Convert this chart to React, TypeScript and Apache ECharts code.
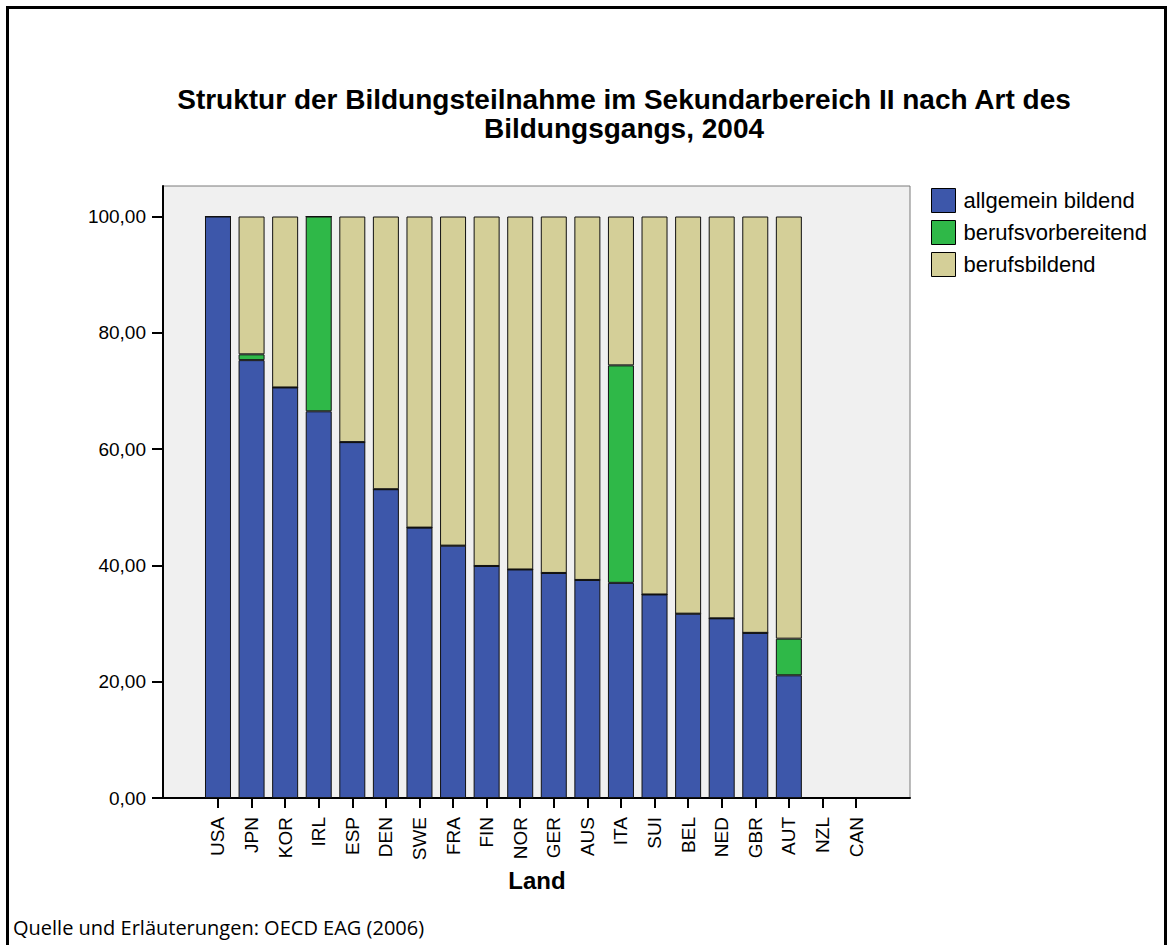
import React, { useEffect, useRef } from "react";
import * as echarts from "echarts";

const titleLines = [
  "Struktur der Bildungsteilnahme im Sekundarbereich II nach Art des",
  "Bildungsgangs, 2004",
];
const categories = ["USA", "JPN", "KOR", "IRL", "ESP", "DEN", "SWE", "FRA", "FIN", "NOR", "GER", "AUS", "ITA", "SUI", "BEL", "NED", "GBR", "AUT", "NZL", "CAN"];
const seriesNames = ["allgemein bildend", "berufsvorbereitend", "berufsbildend"];
const allgemeinBildend = [100, 75.3, 70.6, 66.5, 61.2, 53.1, 46.5, 43.4, 39.9, 39.3, 38.7, 37.5, 37.0, 35.0, 31.7, 30.9, 28.4, 21.1, null, null];
const berufsvorbereitend = [0, 1.0, 0, 33.5, 0, 0, 0, 0, 0, 0, 0, 0, 37.4, 0, 0, 0, 0, 6.3, null, null];
const berufsbildend = [0, 23.7, 29.4, 0, 38.8, 46.9, 53.5, 56.6, 60.1, 60.7, 61.3, 62.5, 25.6, 65.0, 68.3, 69.1, 71.6, 72.6, null, null];
const yTicks = [0, 20, 40, 60, 80, 100];
const xAxisName = "Land";
const footerText = "Quelle und Erläuterungen: OECD EAG (2006)";
const colors = ["#3d57aa", "#2fb848", "#d4cf98"];

const FONT = "'Liberation Sans', Arial, sans-serif";

export default function App() {
  const ref = useRef<HTMLDivElement>(null);
  useEffect(() => {
    if (!ref.current) return;
    const chart = echarts.init(ref.current, undefined, { renderer: "svg" });
    const values = [allgemeinBildend, berufsvorbereitend, berufsbildend];
    const titleStyle = { fontFamily: FONT, fontSize: 28, fontWeight: "bold", color: "#000", lineHeight: 27 };
    chart.setOption({
      animation: false,
      backgroundColor: "#ffffff",
      textStyle: { fontFamily: FONT },
      title: [
        { text: titleLines[0], left: 624, top: 86, textAlign: "center", padding: 0, textStyle: titleStyle },
        { text: titleLines[1], left: 624, top: 115, textAlign: "center", padding: 0, textStyle: titleStyle },
      ],
      legend: {
        orient: "vertical",
        left: 926,
        top: 183,
        itemWidth: 24,
        itemHeight: 24,
        itemGap: 7,
        icon: "rect",
        data: seriesNames,
        textStyle: { fontFamily: FONT, fontSize: 22, color: "#000", padding: [0, 0, 0, 3] },
        itemStyle: { borderColor: "#000", borderWidth: 1 },
      },
      grid: [
        { left: 163, right: 258, top: 186, bottom: 147, show: true, backgroundColor: "#f0f0f0", borderColor: "#7a7a7a", borderWidth: 1 },
        { left: 201.2, right: 295.2, top: 216.5, bottom: 147 },
      ],
      xAxis: [
        {
          type: "value", gridIndex: 0, min: 0, max: 1,
          axisLine: { show: true, onZero: false, lineStyle: { color: "#000", width: 2 } },
          axisTick: { show: false }, axisLabel: { show: false }, splitLine: { show: false },
        },
        {
          type: "category", gridIndex: 1, data: categories,
          axisLine: { show: false },
          axisTick: { show: true, alignWithLabel: true, length: 10, lineStyle: { color: "#000", width: 2 } },
          axisLabel: { rotate: 90, margin: 19, fontSize: 19, color: "#000", fontFamily: FONT },
          name: xAxisName,
          nameLocation: "middle",
          nameGap: 70,
          nameTextStyle: { fontFamily: FONT, fontSize: 24, fontWeight: "bold", color: "#000" },
          splitLine: { show: false },
        },
      ],
      yAxis: [
        {
          type: "value", gridIndex: 0, min: 0, max: 1,
          axisLine: { show: true, onZero: false, lineStyle: { color: "#000", width: 2 } },
          axisTick: { show: false }, axisLabel: { show: false }, splitLine: { show: false },
        },
        {
          type: "value", gridIndex: 1, min: 0, max: 100, interval: 20, offset: 38.2,
          axisLine: { show: false },
          axisTick: { show: true, length: 11, lineStyle: { color: "#000", width: 2 }, customValues: yTicks },
          axisLabel: {
            margin: 17, fontSize: 19, color: "#000", fontFamily: FONT, customValues: yTicks,
            formatter: (v: number) => v.toFixed(2).replace(".", ","),
          },
          splitLine: { show: false },
        },
      ],
      series: seriesNames.map((name, i) => ({
        name,
        type: "bar",
        stack: "total",
        xAxisIndex: 1,
        yAxisIndex: 1,
        barWidth: 26,
        data: values[i],
        itemStyle: { color: colors[i], borderColor: "#111", borderWidth: 1 },
      })),
      graphic: [
        {
          type: "polyline",
          shape: { points: [[7.5, 945], [7.5, 7.5], [1165.5, 7.5], [1165.5, 945]] },
          style: { stroke: "#000", lineWidth: 3, fill: "none" },
        },
        {
          type: "text",
          left: 13,
          top: 917,
          style: { text: footerText, font: "20px 'Open Sans', 'Noto Sans', sans-serif", fill: "#000" },
        },
      ],
    });
    return () => chart.dispose();
  }, []);
  return <div ref={ref} style={{ position: "fixed", left: 0, top: 0, width: 1168, height: 945 }} />;
}
